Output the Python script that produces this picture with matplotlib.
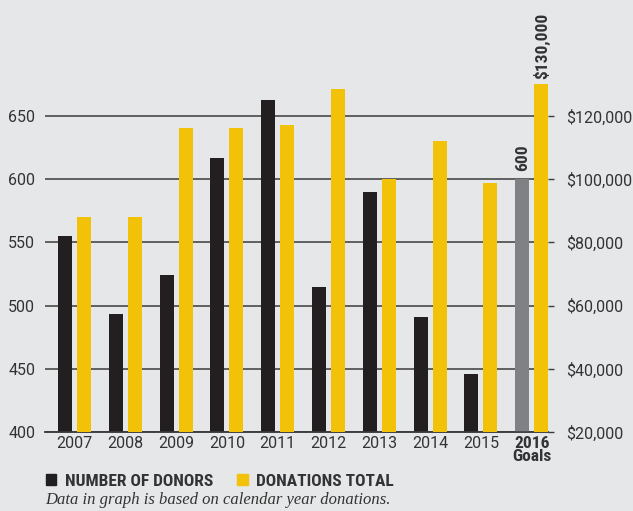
import matplotlib
matplotlib.use("Agg")
import matplotlib.pyplot as plt
from matplotlib import font_manager
from matplotlib.patches import Patch
from matplotlib.ticker import FuncFormatter
import numpy as np

# data
years = ["2007", "2008", "2009", "2010", "2011", "2012", "2013", "2014", "2015", "2016\nGoals"]
donors = [555, 493, 524, 617, 663, 515, 590, 491, 446, 600]
donations = [88000, 88000, 116200, 116200, 117200, 128500, 100000, 112000, 98800, 130000]

left_ticks = [400, 450, 500, 550, 600, 650]
right_ticks = [20000, 40000, 60000, 80000, 100000, 120000]

names = {f.name for f in font_manager.fontManager.ttflist}
sans = "Roboto" if "Roboto" in names else "DejaVu Sans"
narrow = "Roboto Condensed" if "Roboto Condensed" in names else sans
plt.rcParams["font.family"] = [sans, "DejaVu Sans"]

bg = "#e6e7e9"
black = "#231f20"
yellow = "#f2c208"
grey = "#808184"
txt = "#333333"
grid_c = "#3c3c3c"
fs = 11.5

fig = plt.figure(figsize=(6.33, 5.11), dpi=100, facecolor=bg)
ax = fig.add_axes([45 / 633, 79 / 511, 503 / 633, 432 / 511])
ax.set_facecolor(bg)
ax2 = ax.twinx()

x = np.arange(len(years))
w = 0.276
off = 0.187
colors = [black] * (len(years) - 1) + [grey]
ax.bar(x - off, donors, width=w, color=colors, zorder=3)
ax2.bar(x + off, donations, width=w, color=yellow, zorder=3)

ax.set_xlim(-0.58, 9.32)
ax.set_ylim(400, 741.8)
ax2.set_ylim(20000, 156700)

ax.set_yticks(left_ticks)
ax2.set_yticks(right_ticks)
ax2.yaxis.set_major_formatter(FuncFormatter(lambda v, p: "${:,.0f}".format(v)))

ax.set_axisbelow(True)
ax.yaxis.grid(True, color=grid_c, linewidth=1.1)
ax.xaxis.grid(False)

for a in (ax, ax2):
    for s in ["top", "left", "right"]:
        a.spines[s].set_visible(False)
    a.spines["bottom"].set_color(grid_c)
    a.spines["bottom"].set_linewidth(1.1)

ax.tick_params(axis="y", length=0, pad=7, labelsize=fs, labelcolor=txt)
ax2.tick_params(axis="y", length=4, width=1, color=grid_c, pad=9, labelsize=fs, labelcolor=txt)
ax.set_xticks(x)
ax.set_xticklabels(years)
ax.tick_params(axis="x", length=0, pad=3, labelsize=fs, labelcolor=txt)
lbls = ax.get_xticklabels()
lbls[-1].set_fontweight("bold")
lbls[-1].set_family(narrow)
lbls[-1].set_fontsize(12.5)
lbls[-1].set_linespacing(0.85)

# goal labels
ax.text(x[-1] - off, donors[-1] + 6.5, "600", rotation=90, ha="center", va="bottom",
        fontsize=12.5, fontweight="bold", family=narrow, color=txt)
ax2.text(x[-1] + off, donations[-1] + 1800, "$130,000", rotation=90, ha="center", va="bottom",
         fontsize=12.5, fontweight="bold", family=narrow, color=txt)

handles = [Patch(color=black), Patch(color=yellow)]
leg = fig.legend(handles, ["NUMBER OF DONORS", "DONATIONS TOTAL"], loc="center left",
                 bbox_to_anchor=(30 / 633, 1 - 481 / 511), ncol=2, frameon=False,
                 handlelength=0.6, handleheight=0.6, handletextpad=0.5, columnspacing=1.4,
                 prop={"weight": "bold", "size": 12.5, "family": narrow})
for t in leg.get_texts():
    t.set_color(txt)

fig.text(45 / 633, 1 - 500 / 511, "Data in graph is based on calendar year donations.",
         family="Liberation Serif", style="italic", fontsize=12, color=txt,
         ha="left", va="center")

fig.savefig("out.png", dpi=100, facecolor=bg)
